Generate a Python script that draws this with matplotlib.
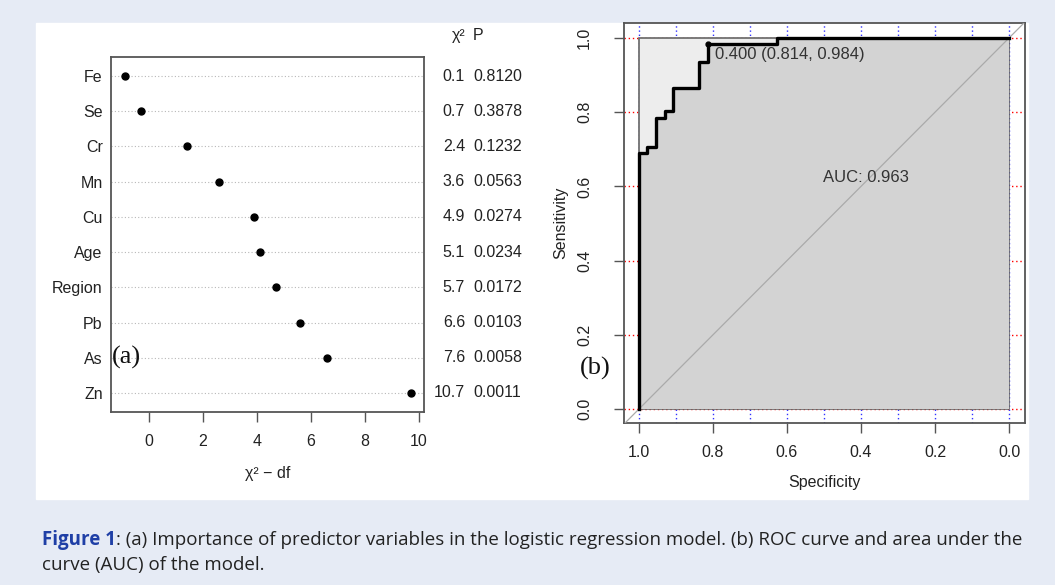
import numpy as np
import matplotlib
matplotlib.use("Agg")
import matplotlib.pyplot as plt
from matplotlib.patches import Rectangle, Polygon

# ---- data (a): predictor importance
variaveis = ["Fe", "Se", "Cr", "Mn", "Cu", "Age", "Region", "Pb", "As", "Zn"]
chi2 = [0.1, 0.7, 2.4, 3.6, 4.9, 5.1, 5.7, 6.6, 7.6, 10.7]
df = [1, 1, 1, 1, 1, 1, 1, 1, 1, 1]
pvals = ["0.8120", "0.3878", "0.1232", "0.0563", "0.0274", "0.0234", "0.0172", "0.0103", "0.0058", "0.0011"]

# ---- data (b): ROC curve corners (specificity, sensitivity)
spec = [1.0, 1.0, 0.977, 0.977, 0.953, 0.953, 0.930, 0.930, 0.907, 0.907, 0.837, 0.837, 0.814, 0.814, 0.628, 0.628, 0.0]
sens = [0.0, 0.689, 0.689, 0.705, 0.705, 0.785, 0.785, 0.803, 0.803, 0.866, 0.866, 0.936, 0.936, 0.984, 0.984, 1.0, 1.0]
limiar = 0.400
limiar_spec = 0.814
limiar_sens = 0.984
auc = 0.963

plt.rcParams['font.family'] = ['Liberation Sans', 'DejaVu Sans']
W, H = 1055, 585
fig = plt.figure(figsize=(W/100, H/100), dpi=100, facecolor='#e6ebf5')
fig.add_artist(Rectangle((36/W, 1-499/H), (1028-36)/W, (499-23)/H,
                         transform=fig.transFigure, color='white', zorder=0))

cinza = '#555555'

# ---------------- painel (a)
ax1 = fig.add_axes([111/W, 1-412/H, 313/W, 355/H])
ys = np.arange(len(variaveis))[::-1] + 1
xs = np.array(chi2) - np.array(df)
for y in ys:
    ax1.axhline(y, color='#b8b8b8', ls=(0, (1, 2)), lw=0.8, zorder=1)
ax1.plot(xs, ys, 'o', color='black', ms=5, zorder=3)
ax1.set_xlim(-1.41, 10.19)
ax1.set_ylim(0.46, 10.54)
ax1.set_yticks(ys)
ax1.set_yticklabels(variaveis)
ax1.set_xticks([0, 2, 4, 6, 8, 10])
ax1.tick_params(axis='y', length=0, pad=6, labelsize=11.5, labelcolor='#222222')
ax1.tick_params(axis='x', length=7, width=1, color=cinza, pad=9, labelsize=11.5, labelcolor='#222222')
for s in ax1.spines.values():
    s.set_color(cinza)
    s.set_linewidth(1.3)
ax1.set_xlabel("χ² − df", fontsize=11.5, color='#222222', labelpad=12)

# colunas chi2 e P
tr = ax1.get_yaxis_transform()
x_chi = (465-111)/313
x_p = (473-111)/313
for y, c, p in zip(ys, chi2, pvals):
    ax1.text(x_chi, y, "%.1f" % c, transform=tr, ha='right', va='center', fontsize=11.5, color='#222222', clip_on=False)
    ax1.text(x_p, y, p, transform=tr, ha='left', va='center', fontsize=11.5, color='#222222', clip_on=False)
y_head = 10 + (76-35)/35.22
ax1.text(x_chi, y_head, "χ²", transform=tr, ha='right', va='center', fontsize=11.5, color='#222222', clip_on=False)
ax1.text(x_p, y_head, "P", transform=tr, ha='left', va='center', fontsize=11.5, color='#222222', clip_on=False)
ax1.text(-1.38, 2, "(a)", fontsize=19, family='Liberation Serif', ha='left', va='center', color='#111111')

# ---------------- painel (b)
ax2 = fig.add_axes([624/W, 1-423/H, 401/W, 400/H])
ax2.set_xlim(1.0405, -0.0432)
ax2.set_ylim(-0.0377, 1.0404)
for g in np.arange(0, 1.01, 0.2):
    ax2.axhline(g, color='red', ls=(0, (1, 2)), lw=1, zorder=1)
for g in np.arange(0, 1.01, 0.1):
    ax2.axvline(g, color='#3333ff', ls=(0, (1, 2)), lw=1, zorder=1)
ax2.add_patch(Polygon([(1, 0), (1, 1), (0, 1), (0, 0)], closed=True,
                      facecolor='#ededed', edgecolor='#666666', lw=1.2, zorder=2))
ax2.fill_between(spec, sens, 0, facecolor='#d3d3d3', edgecolor='none', zorder=3)
ax2.plot([1.0405, -0.0432], [-0.0405, 1.0432], color='#aaaaaa', lw=0.9, zorder=4)
ax2.plot(spec, sens, color='black', lw=2.4, zorder=5)
ax2.plot([limiar_spec], [limiar_sens], 'o', color='black', ms=3.5, zorder=6)
ax2.annotate("%.3f (%.3f, %.3f)" % (limiar, limiar_spec, limiar_sens),
             (limiar_spec, limiar_sens), xytext=(5, -2), textcoords='offset points',
             ha='left', va='top', fontsize=12, color='#333333', zorder=7)
ax2.text(0.503, 0.625, "AUC: %.3f" % auc, ha='left', va='center', fontsize=12, color='#333333', zorder=7)
ax2.text(1.16, 0.11, "(b)", fontsize=19, family='Liberation Serif', ha='left', va='center', color='#111111', clip_on=False)
ax2.set_xticks([1.0, 0.8, 0.6, 0.4, 0.2, 0.0])
ax2.set_xticklabels(["1.0", "0.8", "0.6", "0.4", "0.2", "0.0"])
ax2.set_yticks([0.0, 0.2, 0.4, 0.6, 0.8, 1.0])
ax2.set_yticklabels(["0.0", "0.2", "0.4", "0.6", "0.8", "1.0"], rotation=90, va='center')
ax2.tick_params(axis='x', length=7, width=1, color=cinza, pad=9, labelsize=11.5, labelcolor='#222222')
ax2.tick_params(axis='y', length=7, width=1, color=cinza, pad=16, labelsize=11.5, labelcolor='#222222')
for s in ax2.spines.values():
    s.set_color(cinza)
    s.set_linewidth(1.3)
ax2.set_xlabel("Specificity", fontsize=11.5, color='#222222', labelpad=11)
ax2.set_ylabel("Sensitivity", fontsize=11.5, color='#222222', labelpad=6)

# ---------------- legenda da figura
rend = fig.canvas.get_renderer()
tam = 12.5
fam = ['Open Sans', 'DejaVu Sans']
parte1 = "Figure 1"
parte2 = ": (a) Importance of predictor variables in the logistic regression model. (b) ROC curve and area under the"
t1 = fig.text(42/W, 1-545/H, parte1, fontsize=tam, family=fam, weight='bold', color='#1f3fa6', va='baseline')
t2 = fig.text(0, 1-545/H, parte2, fontsize=tam, family=fam, color='#222222', va='baseline')
larg = t1.get_window_extent(rend).width + t2.get_window_extent(rend).width
tam = tam * (1027-42) / larg
t1.set_fontsize(tam)
t2.set_fontsize(tam)
w1 = t1.get_window_extent(rend).width
t2.set_x((42 + w1) / W)
fig.text(42/W, 1-570/H, "curve (AUC) of the model.", fontsize=tam, family=fam, color='#222222', va='baseline')

fig.savefig("out.png", dpi=100, facecolor=fig.get_facecolor())
